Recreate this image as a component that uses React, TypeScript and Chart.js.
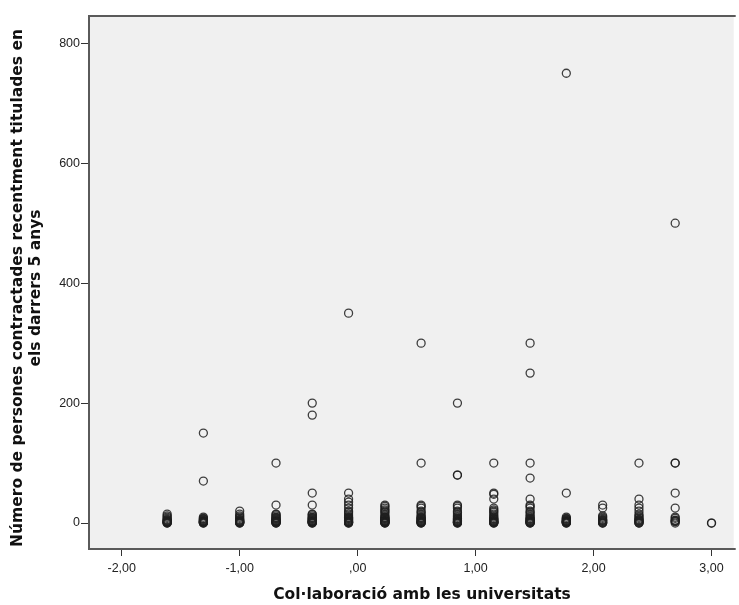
import React, { useEffect, useRef } from "react";
import { Chart, registerables } from "chart.js";

Chart.register(...registerables);

// Collaboration score groups (x) and hires of recent graduates (y) per group
const groupX = [
  -1.615, -1.308, -1.0, -0.692, -0.385, -0.077, 0.231, 0.538,
  0.846, 1.154, 1.462, 1.769, 2.077, 2.385, 2.692, 3.0,
];

const g0 = [15, 12, 10, 8, 6, 5, 4, 3, 2, 2, 1, 1, 0, 0];
const g1 = [150, 70, 10, 8, 7, 6, 5, 4, 3, 3, 2, 2, 1, 1, 0, 0];
const g2 = [20, 15, 12, 10, 8, 6, 5, 4, 3, 2, 2, 1, 1, 0, 0];
const g3 = [100, 30, 15, 14, 12, 10, 9, 8, 7, 6, 5, 4, 3, 3, 2, 2, 1, 1, 0, 0];
const g4 = [200, 180, 50, 30, 15, 14, 12, 10, 9, 8, 7, 6, 5, 4, 3, 3, 2, 2, 1, 1, 0, 0];
const g5 = [350, 50, 40, 35, 30, 25, 20, 18, 15, 12, 10, 9, 8, 7, 6, 5, 4, 3, 2, 2, 1, 1, 0, 0];
const g6 = [30, 28, 25, 22, 20, 18, 15, 12, 10, 9, 8, 7, 6, 5, 4, 3, 3, 2, 2, 1, 1, 0, 0];
const g7 = [300, 100, 30, 28, 25, 20, 18, 15, 12, 10, 9, 8, 7, 6, 5, 4, 3, 2, 2, 1, 1, 0, 0];
const g8 = [200, 80, 80, 30, 28, 25, 20, 18, 15, 12, 10, 8, 7, 6, 5, 4, 3, 2, 2, 1, 1, 0, 0];
const g9 = [100, 50, 48, 40, 25, 22, 20, 18, 15, 12, 10, 8, 7, 6, 5, 4, 3, 2, 2, 1, 1, 0, 0];
const g10 = [300, 250, 100, 75, 40, 30, 28, 25, 20, 18, 15, 12, 10, 8, 7, 6, 5, 4, 3, 2, 2, 1, 1, 0, 0];
const g11 = [750, 50, 10, 8, 7, 6, 5, 4, 3, 3, 2, 2, 1, 1, 0, 0];
const g12 = [30, 25, 12, 10, 8, 6, 5, 4, 3, 2, 1, 0, 0];
const g13 = [100, 40, 30, 25, 20, 15, 12, 10, 8, 6, 5, 4, 3, 2, 1, 0, 0];
const g14 = [500, 100, 100, 50, 25, 10, 8, 5, 4, 3, 2, 0];
const g15 = [0, 0];

const groupY = [g0, g1, g2, g3, g4, g5, g6, g7, g8, g9, g10, g11, g12, g13, g14, g15];

const xTicks = [-2, -1, 0, 1, 2, 3];
const yTicks = [0, 200, 400, 600, 800];

const xTitle = "Col·laboració amb les universitats";
const yTitle = [
  "Número de persones contractades recentment titulades en",
  "els darrers 5 anys",
];

const formatX = (v: number) => {
  if (v === 0) return ",00";
  return v.toFixed(2).replace(".", ",");
};

const titleFont = "bold 15.5px 'DejaVu Sans', Verdana, sans-serif";

// Grey plot panel, its frame and the two axis titles
const panelAndTitles = {
  id: "panelAndTitles",
  beforeDraw(chart: any) {
    const { ctx, chartArea } = chart;
    ctx.save();
    ctx.fillStyle = "#f0f0f0";
    ctx.fillRect(chartArea.left, chartArea.top, chartArea.right - chartArea.left, chartArea.bottom - chartArea.top);
    ctx.restore();
  },
  beforeDatasetsDraw(chart: any) {
    const { ctx, chartArea } = chart;
    ctx.save();
    ctx.strokeStyle = "#5a5a5a";
    ctx.lineWidth = 2;
    ctx.beginPath();
    ctx.moveTo(chartArea.right + 2, chartArea.top);
    ctx.lineTo(chartArea.left, chartArea.top);
    ctx.lineTo(chartArea.left, chartArea.bottom);
    ctx.lineTo(chartArea.right + 2, chartArea.bottom);
    ctx.stroke();
    ctx.restore();
  },
  afterDraw(chart: any) {
    const { ctx, chartArea } = chart;
    ctx.save();
    ctx.fillStyle = "#111";
    ctx.font = titleFont;
    ctx.textAlign = "center";
    ctx.textBaseline = "middle";
    ctx.fillText(xTitle, chartArea.left + 333, chartArea.bottom + 46);
    ctx.translate(0, chartArea.top + 272);
    ctx.rotate(-Math.PI / 2);
    yTitle.forEach((line, i) => {
      ctx.fillText(line, 0, 18 + i * 18);
    });
    ctx.restore();
  },
};

export default function App() {
  const canvasRef = useRef<HTMLCanvasElement | null>(null);

  useEffect(() => {
    if (!canvasRef.current) return;
    const points = groupX.flatMap((x, i) => groupY[i].map((y) => ({ x, y })));
    const tickFont = { family: "'Liberation Sans', Arial, sans-serif", size: 12.5 };

    const chart = new Chart(canvasRef.current, {
      type: "scatter",
      data: {
        datasets: [
          {
            data: points,
            pointStyle: "circle",
            pointRadius: 4,
            pointBorderWidth: 1.3,
            pointBorderColor: "rgba(30,30,30,0.85)",
            pointBackgroundColor: "rgba(0,0,0,0)",
          },
        ],
      },
      options: {
        animation: false,
        responsive: false,
        layout: { padding: { top: 16, right: 0, left: 0, bottom: 0 } },
        plugins: { legend: { display: false }, tooltip: { enabled: false } },
        scales: {
          x: {
            type: "linear",
            position: "bottom",
            min: -2.2776,
            max: 3.188,
            afterFit: (s: any) => {
              s.height = 56;
              s.paddingLeft = 0;
              s.paddingRight = 0;
            },
            afterBuildTicks: (s: any) => {
              s.ticks = xTicks.map((v) => ({ value: v }));
            },
            grid: { drawOnChartArea: false, drawTicks: true, tickLength: 7, color: "#333", lineWidth: 1 },
            border: { display: false },
            ticks: {
              callback: (v: any) => formatX(Number(v)),
              font: tickFont,
              color: "#222",
              padding: 5,
              maxRotation: 0,
              autoSkip: false,
            },
          },
          y: {
            type: "linear",
            min: -43.3,
            max: 845.5,
            afterFit: (s: any) => {
              s.width = 89;
              s.paddingTop = 0;
              s.paddingBottom = 0;
            },
            afterBuildTicks: (s: any) => {
              s.ticks = yTicks.map((v) => ({ value: v }));
            },
            grid: { drawOnChartArea: false, drawTicks: true, tickLength: 8, color: "#333", lineWidth: 1 },
            border: { display: false },
            ticks: {
              callback: (v: any) => String(v),
              font: tickFont,
              color: "#222",
              padding: 1,
              autoSkip: false,
            },
          },
        },
      },
      plugins: [panelAndTitles],
    });
    return () => chart.destroy();
  }, []);

  return (
    <div style={{ position: "fixed", left: 0, top: 0, width: 739, height: 605, background: "#fff" }}>
      <canvas ref={canvasRef} width={739} height={605} style={{ display: "block" }} />
    </div>
  );
}
